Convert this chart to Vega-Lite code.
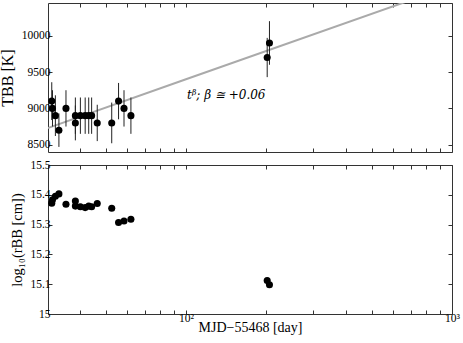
{
  "$schema": "https://vega.github.io/schema/vega-lite/v6.json",
  "autosize": {"type": "none"},
  "padding": {"left": 48, "top": 3, "right": 415, "bottom": 340},
  "background": "white",
  "spacing": 5,
  "config": {
    "font": "Liberation Serif",
    "view": {"stroke": "#333", "strokeWidth": 1},
    "axis": {
      "grid": false,
      "domain": false,
      "tickSize": -4,
      "tickColor": "#333",
      "labelFont": "Liberation Serif",
      "labelFontSize": 11.5,
      "labelColor": "black",
      "titleFont": "Liberation Serif",
      "titleFontWeight": "normal",
      "titleColor": "black"
    }
  },
  "datasets": {
    "sn": [
      {"day": 31.3, "T": 9100, "lo": 8840, "hi": 9360, "r": 15.372},
      {"day": 31.5, "T": 9000, "lo": 8750, "hi": 9250, "r": 15.383},
      {"day": 32.3, "T": 8900, "lo": 8620, "hi": 9180, "r": 15.395},
      {"day": 33.3, "T": 8700, "lo": 8470, "hi": 8930, "r": 15.403},
      {"day": 35.4, "T": 9000, "lo": 8750, "hi": 9250, "r": 15.368},
      {"day": 38.4, "T": 8900, "lo": 8650, "hi": 9150, "r": 15.379},
      {"day": 38.4, "T": 8800, "lo": 8560, "hi": 9040, "r": 15.362},
      {"day": 40.1, "T": 8900, "lo": 8650, "hi": 9150, "r": 15.36},
      {"day": 41.8, "T": 8900, "lo": 8650, "hi": 9150, "r": 15.357},
      {"day": 43.1, "T": 8900, "lo": 8650, "hi": 9150, "r": 15.362},
      {"day": 44.2, "T": 8900, "lo": 8650, "hi": 9150, "r": 15.36},
      {"day": 46.4, "T": 8800, "lo": 8550, "hi": 9050, "r": 15.371},
      {"day": 52.6, "T": 8800, "lo": 8520, "hi": 9080, "r": 15.355},
      {"day": 55.8, "T": 9100, "lo": 8850, "hi": 9350, "r": 15.307},
      {"day": 58.5, "T": 9000, "lo": 8750, "hi": 9250, "r": 15.312},
      {"day": 62.1, "T": 8900, "lo": 8650, "hi": 9150, "r": 15.318},
      {"day": 202, "T": 9700, "lo": 9430, "hi": 9970, "r": 15.112},
      {"day": 206, "T": 9900, "lo": 9600, "hi": 10200, "r": 15.098}
    ],
    "fit": [
      {"day": 30, "T": 8725},
      {"day": 100, "T": 9400},
      {"day": 1000, "T": 10690}
    ],
    "note": [
      {"day": 101, "T": 9185, "label": "tᵝ; β ≅ +0.06"}
    ]
  },
  "vconcat": [
    {
      "width": 404,
      "height": 149,
      "resolve": {"axis": {"x": "independent", "y": "independent"}},
      "layer": [
        {
          "data": {"name": "fit"},
          "mark": {"type": "line", "color": "#aaaaaa", "strokeWidth": 2, "clip": true},
          "encoding": {
            "x": {"field": "day", "type": "quantitative",
              "scale": {"type": "log", "domain": [30.3, 1000]},
              "axis": {"orient": "bottom", "values": [40, 50, 60, 70, 80, 90, 100, 200, 300, 400, 500, 600, 700, 800, 900, 1000], "labels": false, "title": null}},
            "y": {"field": "T", "type": "quantitative",
              "scale": {"domain": [8400, 10450], "zero": false, "nice": false},
              "axis": {"orient": "left", "values": [8500, 9000, 9500, 10000], "format": "d", "title": "TBB [K]", "titleFontSize": 16, "titlePadding": 6}}
          }
        },
        {
          "data": {"name": "sn"},
          "mark": {"type": "rule", "color": "#222", "strokeWidth": 1},
          "encoding": {
            "x": {"field": "day", "type": "quantitative",
              "scale": {"type": "log", "domain": [30.3, 1000]},
              "axis": {"orient": "top", "values": [40, 50, 60, 70, 80, 90, 100, 200, 300, 400, 500, 600, 700, 800, 900, 1000], "labels": false, "title": null}},
            "y": {"field": "lo", "type": "quantitative",
              "scale": {"domain": [8400, 10450], "zero": false, "nice": false},
              "axis": {"orient": "right", "values": [8500, 9000, 9500, 10000], "labels": false, "title": null}},
            "y2": {"field": "hi"}
          }
        },
        {
          "data": {"name": "sn"},
          "mark": {"type": "circle", "color": "black", "opacity": 1, "size": 50},
          "encoding": {
            "x": {"field": "day", "type": "quantitative", "scale": {"type": "log", "domain": [30.3, 1000]}, "axis": null},
            "y": {"field": "T", "type": "quantitative", "scale": {"domain": [8400, 10450], "zero": false, "nice": false}, "axis": null}
          }
        },
        {
          "data": {"name": "note"},
          "mark": {"type": "text", "align": "left", "baseline": "middle", "font": "DejaVu Serif", "fontStyle": "italic", "fontSize": 12, "color": "black"},
          "encoding": {
            "x": {"field": "day", "type": "quantitative", "scale": {"type": "log", "domain": [30.3, 1000]}, "axis": null},
            "y": {"field": "T", "type": "quantitative", "scale": {"domain": [8400, 10450], "zero": false, "nice": false}, "axis": null},
            "text": {"field": "label"}
          }
        }
      ]
    },
    {
      "width": 404,
      "height": 149,
      "resolve": {"axis": {"x": "independent", "y": "independent"}},
      "layer": [
        {
          "data": {"name": "sn"},
          "mark": {"type": "circle", "color": "black", "opacity": 1, "size": 50},
          "encoding": {
            "x": {"field": "day", "type": "quantitative",
              "scale": {"type": "log", "domain": [30.3, 1000]},
              "axis": {"orient": "bottom", "values": [40, 50, 60, 70, 80, 90, 100, 200, 300, 400, 500, 600, 700, 800, 900, 1000],
                "labelExpr": "datum.value == 100 ? '10²' : (datum.value == 1000 ? '10³' : '')",
                "labelPadding": 2, "labelFlush": false, "labelOverlap": false,
                "title": "MJD−55468 [day]", "titleFontSize": 14, "titlePadding": -3}},
            "y": {"field": "r", "type": "quantitative",
              "scale": {"domain": [15, 15.5], "zero": false, "nice": false},
              "axis": {"orient": "left", "values": [15, 15.1, 15.2, 15.3, 15.4, 15.5], "format": ".1~f", "title": "log₁₀(rBB [cm])", "titleFontSize": 14.5, "titlePadding": 5}}
          }
        },
        {
          "data": {"name": "sn"},
          "mark": {"type": "circle", "opacity": 0},
          "encoding": {
            "x": {"field": "day", "type": "quantitative",
              "scale": {"type": "log", "domain": [30.3, 1000]},
              "axis": {"orient": "top", "values": [40, 50, 60, 70, 80, 90, 100, 200, 300, 400, 500, 600, 700, 800, 900, 1000], "labels": false, "title": null}},
            "y": {"field": "r", "type": "quantitative",
              "scale": {"domain": [15, 15.5], "zero": false, "nice": false},
              "axis": {"orient": "right", "values": [15, 15.1, 15.2, 15.3, 15.4, 15.5], "labels": false, "title": null}}
          }
        }
      ]
    }
  ]
}
